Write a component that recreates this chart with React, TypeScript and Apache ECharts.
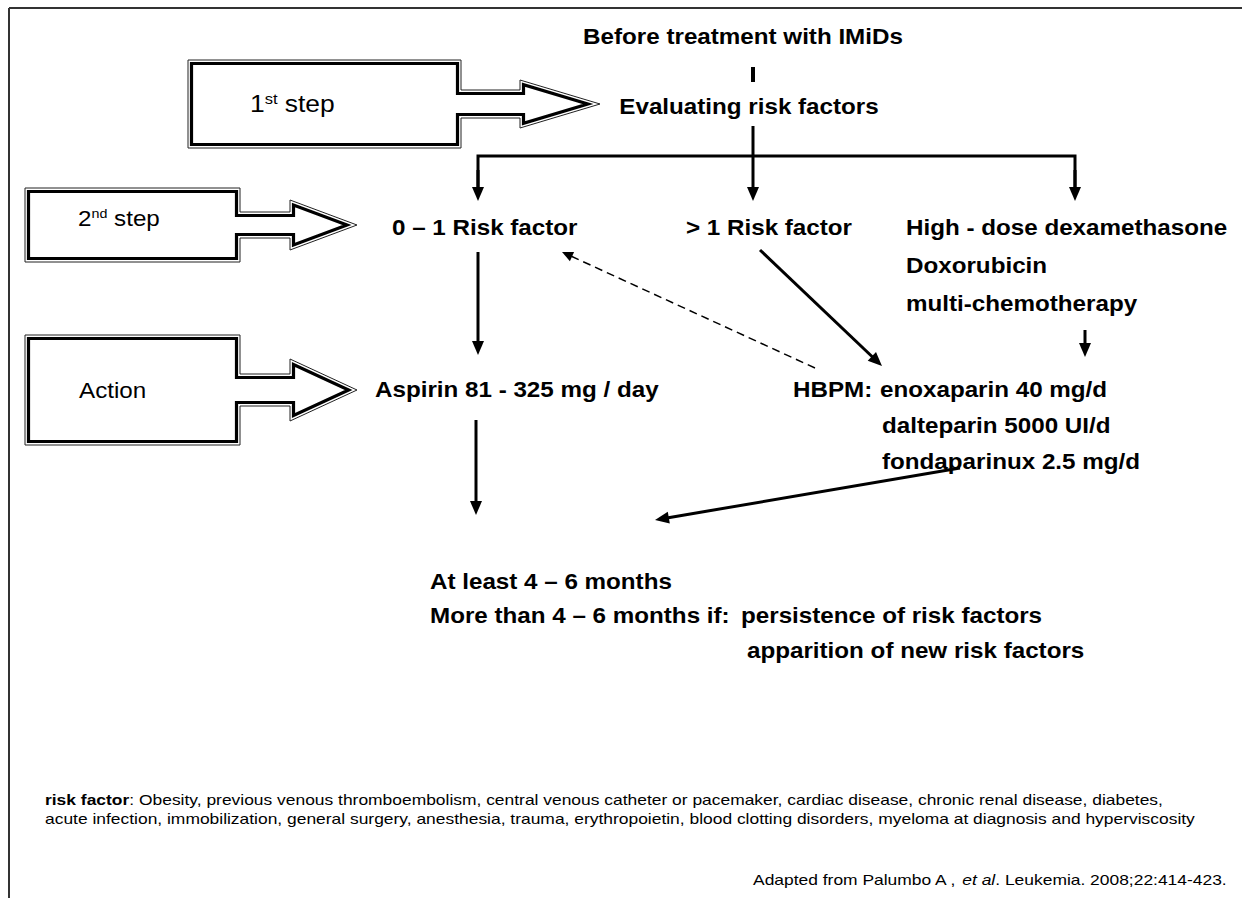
import React, { useEffect, useRef } from "react";
import * as echarts from "echarts";

// ---------- content (texts) ----------
const titleTop = "Before treatment with IMiDs";
const titleEval = "Evaluating risk factors";
const stepLabels = ["1st step", "2nd step", "Action"];
const branchLabels = ["0 – 1 Risk factor", "> 1 Risk factor"];
const highRiskDrugs = ["High - dose dexamethasone", "Doxorubicin", "multi-chemotherapy"];
const aspirinLabel = "Aspirin 81 - 325 mg / day";
const hbpmPrefix = "HBPM:";
const hbpmDrugs = ["enoxaparin 40 mg/d", "dalteparin 5000 UI/d", "fondaparinux 2.5 mg/d"];
const durationLines = ["At least 4 – 6 months", "More than 4 – 6 months if:"];
const extensionReasons = ["persistence of risk factors", "apparition of new risk factors"];
const footnoteLead = "risk factor";
const footnoteLines = [
  ": Obesity, previous venous thromboembolism, central venous catheter or pacemaker, cardiac disease, chronic renal disease, diabetes,",
  "acute infection, immobilization, general surgery, anesthesia, trauma, erythropoietin, blood clotting disorders, myeloma at diagnosis and hyperviscosity",
];
const sourceParts = ["Adapted from Palumbo A , ", "et al", ". Leukemia. 2008;22:414-423."];

// ---------- layout ----------
const W = 1242;
const H = 898;
const FONT = '"Liberation Sans", Arial, Helvetica, sans-serif';
const SX = 1.1; // horizontal stretch of the original slide
const MAIN = 22;

type Block = { x0: number; x1: number; y0: number; y1: number; sh: number; hx: number; hh: number; tip: number };
const blocks: Block[] = [
  { x0: 188, x1: 461, y0: 60, y1: 148, sh: 14, hx: 520, hh: 24, tip: 600 },
  { x0: 25, x1: 240, y0: 188, y1: 262, sh: 13, hx: 290, hh: 25, tip: 357 },
  { x0: 25, x1: 240, y0: 335, y1: 445, sh: 16, hx: 290, hh: 31, tip: 357 },
];
const stepTextPos = [
  [250, 103, 24, 15],
  [78, 218, 22, 13],
  [79, 390, 22, 13],
];

function measure(text: string, font: string) {
  const c = document.createElement("canvas");
  const ctx = c.getContext("2d")!;
  ctx.font = font;
  return ctx.measureText(text).width;
}

function blockPoints(b: Block, d: number) {
  const cy = (b.y0 + b.y1) / 2;
  const len = b.tip - b.hx;
  const k = b.hh / len;
  const cosA = len / Math.hypot(len, b.hh);
  const sinA = b.hh / Math.hypot(len, b.hh);
  const x0 = b.x0 + d, x1 = b.x1 - d, y0 = b.y0 + d, y1 = b.y1 - d;
  const sh = b.sh - d;
  const hx = b.hx + d;
  const hh = b.hh - d * k - d / cosA;
  const tip = b.tip - d / sinA;
  return [
    [x0, y0], [x1, y0], [x1, cy - sh], [hx, cy - sh], [hx, cy - hh], [tip, cy],
    [hx, cy + hh], [hx, cy + sh], [x1, cy + sh], [x1, y1], [x0, y1],
  ];
}

function arrow(x1: number, y1: number, x2: number, y2: number, o: { w?: number; hl?: number; hw?: number; dash?: number[] } = {}) {
  const w = o.w ?? 3, hl = o.hl ?? 14, hw = o.hw ?? 6;
  const dx = x2 - x1, dy = y2 - y1, L = Math.hypot(dx, dy);
  const ux = dx / L, uy = dy / L;
  const bx = x2 - ux * hl, by = y2 - uy * hl;
  return [
    { type: "line", silent: true, shape: { x1, y1, x2: bx + ux * 2, y2: by + uy * 2 }, style: { stroke: "#000", lineWidth: w, lineDash: o.dash || null } },
    { type: "polygon", silent: true, shape: { points: [[x2, y2], [bx - uy * hw, by + ux * hw], [bx + uy * hw, by - ux * hw]] }, style: { fill: "#000" } },
  ];
}

function txt(text: string, x: number, y: number, o: any = {}) {
  const align = o.align ?? "left";
  return {
    type: "text",
    silent: true,
    x,
    y,
    scaleX: o.sx ?? SX,
    style: {
      text,
      fontFamily: FONT,
      fontSize: o.size ?? MAIN,
      fontWeight: o.weight ?? "bold",
      fontStyle: o.style ?? "normal",
      fill: "#000",
      align,
      textAlign: align,
      verticalAlign: "middle",
      textVerticalAlign: "middle",
      rich: o.rich,
    },
  };
}

function stepText(label: string, x: number, y: number, size: number, supSize: number) {
  const m = label.match(/^(\d)(st|nd|rd|th)(.*)$/);
  const rich = {
    n: { fontFamily: FONT, fontSize: size, fontWeight: "normal", fill: "#000", verticalAlign: "bottom" },
    s: { fontFamily: FONT, fontSize: supSize, fontWeight: "normal", fill: "#000", verticalAlign: "top" },
  };
  const t = m ? `{n|${m[1]}}{s|${m[2]}}{n|${m[3]}}` : `{n|${label}}`;
  return txt(t, x, y, { weight: "normal", rich, size });
}

function buildElements() {
  const els: any[] = [];
  // frame
  els.push({ type: "line", silent: true, shape: { x1: 9, y1: 8, x2: W, y2: 8 }, style: { stroke: "#333", lineWidth: 2 } });
  els.push({ type: "line", silent: true, shape: { x1: 9, y1: 8, x2: 9, y2: H }, style: { stroke: "#333", lineWidth: 2 } });

  // block arrows
  blocks.forEach((b, i) => {
    els.push({ type: "polygon", silent: true, shape: { points: blockPoints(b, 0) }, style: { fill: "#fff", stroke: "#222", lineWidth: 1 } });
    els.push({ type: "polygon", silent: true, shape: { points: blockPoints(b, 3.5) }, style: { fill: "none", stroke: "#000", lineWidth: 3.2, lineJoin: "miter" } });
    const p = stepTextPos[i];
    els.push(stepText(stepLabels[i], p[0], p[1], p[2], p[3]));
  });

  // titles
  els.push(txt(titleTop, 743, 36, { align: "center" }));
  els.push({ type: "line", silent: true, shape: { x1: 753, y1: 67, x2: 753, y2: 82 }, style: { stroke: "#000", lineWidth: 4 } });
  els.push(txt(titleEval, 749, 106, { align: "center" }));

  // tree
  els.push(...arrow(753, 126, 753, 201));
  els.push({ type: "polyline", silent: true, shape: { points: [[478, 201 - 14], [478, 156], [1075, 156], [1075, 201 - 14]] }, style: { stroke: "#000", lineWidth: 3, fill: "none" } });
  els.push(...arrow(478, 170, 478, 201));
  els.push(...arrow(1075, 170, 1075, 201));

  // row 2
  els.push(txt(branchLabels[0], 392, 227));
  els.push(txt(branchLabels[1], 686, 227));
  highRiskDrugs.forEach((t, i) => els.push(txt(t, 906, 227 + i * 38)));

  els.push(...arrow(478, 252, 478, 355));
  els.push(...arrow(760, 250, 882, 366));
  els.push(...arrow(1085, 330, 1085, 357));
  els.push(...arrow(815, 368, 562, 252, { w: 1.5, hl: 11, hw: 5, dash: [8, 5] }));

  // row 3
  els.push(txt(aspirinLabel, 375, 389));
  els.push(txt(hbpmPrefix, 793, 389));
  hbpmDrugs.forEach((t, i) => els.push(txt(t, i === 0 ? 880 : 882, 389 + i * 36)));

  els.push(...arrow(476, 420, 476, 515));
  els.push(...arrow(960, 468, 655, 520));

  // duration
  els.push(txt(durationLines[0], 430, 581));
  els.push(txt(durationLines[1], 430, 615));
  els.push(txt(extensionReasons[0], 741, 615));
  els.push(txt(extensionReasons[1], 747, 650));

  // footnote
  const fs = 14;
  const normalFont = `normal ${fs}px ${FONT}`;
  const fnX = 45;
  const line2W = measure(footnoteLines[1], normalFont);
  const fsx = (1196 - fnX) / line2W;
  const fnRich = {
    b: { fontFamily: FONT, fontSize: fs, fontWeight: "bold", fill: "#000" },
    r: { fontFamily: FONT, fontSize: fs, fontWeight: "normal", fill: "#000" },
    i: { fontFamily: FONT, fontSize: fs, fontWeight: "normal", fontStyle: "italic", fill: "#000" },
  };
  els.push(txt(`{b|${footnoteLead}}{r|${footnoteLines[0]}}`, fnX, 800, { sx: fsx, rich: fnRich, weight: "normal", size: fs }));
  els.push(txt(`{r|${footnoteLines[1]}}`, fnX, 819, { sx: fsx, rich: fnRich, weight: "normal", size: fs }));

  const srcW =
    measure(sourceParts[0], normalFont) + measure(sourceParts[1], `italic ${fs}px ${FONT}`) + measure(sourceParts[2], normalFont);
  const srcRight = 1227;
  els.push(
    txt(`{r|${sourceParts[0]}}{i|${sourceParts[1]}}{r|${sourceParts[2]}}`, srcRight - srcW * fsx, 880, {
      sx: fsx,
      rich: fnRich,
      weight: "normal",
      size: fs,
    })
  );
  return els;
}

export default function App() {
  const ref = useRef<HTMLDivElement>(null);
  useEffect(() => {
    document.body.style.margin = "0";
    if (!ref.current) return;
    const chart = echarts.init(ref.current, undefined, { renderer: "svg" });
    chart.setOption({
      animation: false,
      backgroundColor: "#fff",
      graphic: { elements: buildElements() },
    });
    return () => chart.dispose();
  }, []);
  return <div ref={ref} style={{ position: "fixed", left: 0, top: 0, width: W, height: H, background: "#fff" }} />;
}
